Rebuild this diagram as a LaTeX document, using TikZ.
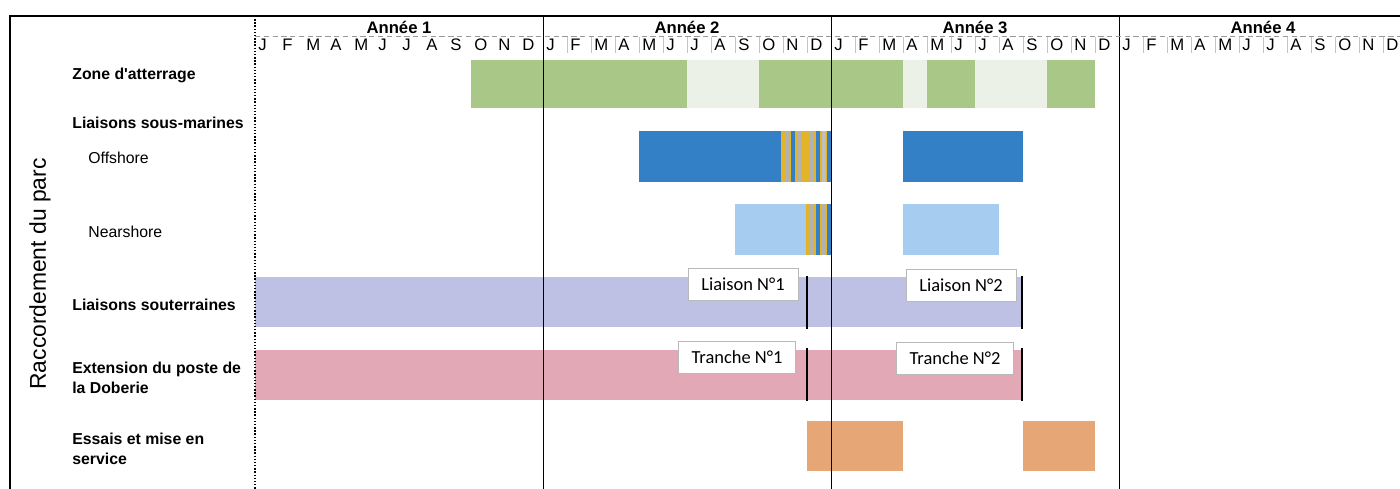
\documentclass[tikz,border=0pt]{standalone}
\usepackage{fontspec}
\setmainfont{Liberation Sans}
\newfontfamily\calibri{Carlito}
\definecolor{vert}{RGB}{169,199,134}
\definecolor{vertpale}{RGB}{236,241,232}
\definecolor{bleu}{RGB}{52,128,198}
\definecolor{bleuclair}{RGB}{166,205,240}
\definecolor{lavande}{RGB}{190,193,228}
\definecolor{rose}{RGB}{226,168,182}
\definecolor{orangeb}{RGB}{230,166,118}
\definecolor{ocre}{RGB}{228,180,40}

\begin{document}
\begin{tikzpicture}[x=0.02cm,y=-0.02cm,
    lbl/.style={font=\bfseries\fontsize{9}{11.5}\selectfont,anchor=west,inner sep=0pt,align=left},
    sublbl/.style={font=\fontsize{9}{11}\selectfont,anchor=west,inner sep=0pt},
    mois/.style={font=\fontsize{9.5}{11}\selectfont,anchor=west,inner sep=0pt},
    annee/.style={font=\bfseries\fontsize{9.5}{11}\selectfont,inner sep=0pt},
    etiq/.style={draw=gray!55,fill=white,font=\calibri\fontsize{10.5}{12}\selectfont,
        minimum height=0.64cm,inner ysep=3pt,inner xsep=7.5pt},
    fin/.style={line width=1.6pt,black}]
\useasboundingbox (0,0) rectangle (1400,489);
% barres du planning
% zone d'atterrage
\fill[vert] (471,60) rectangle (1095,108);
\fill[vertpale] (687,60) rectangle (759,108);
\fill[vertpale] (903,60) rectangle (927,108);
\fill[vertpale] (975,60) rectangle (1047,108);
% offshore
\fill[bleu] (639,131) rectangle (783,182);
\fill[bleu] (903,131) rectangle (1023,182);
\fill[ocre] (781,131) rectangle (831,182);
\foreach \x/\c in {787/gray!60,793/bleu,800/gray!60,812/gray!60,818/bleu,824/gray!50,829/bleu}
    \fill[\c] (\x-2,131) rectangle (\x+2,182);
% nearshore
\fill[bleuclair] (735,204) rectangle (807,255);
\fill[bleuclair] (903,204) rectangle (999,255);
\fill[ocre] (806,204) rectangle (831,255);
\foreach \x/\c in {812/gray!60,818/bleu,823/gray!60,829/bleu}
    \fill[\c] (\x-2,204) rectangle (\x+2,255);
% liaisons souterraines et poste
\fill[lavande] (255,277) rectangle (1023,327);
\fill[rose] (255,350) rectangle (1023,400);
% essais
\fill[orangeb] (807,421) rectangle (903,471);
\fill[orangeb] (1023,421) rectangle (1095,471);

% cadre
\draw[line width=1pt] (10,489) -- (10,16) -- (1400,16);
\draw[densely dotted,thick] (255,16) -- (255,489);
\foreach \x in {543,831,1119}
    \draw[thin] (\x,16) -- (\x,489);
\draw[gray!80,densely dashed] (255,36) -- (1400,36);
% annees et mois
\foreach \a in {1,...,4} {
    \node[annee] (an\a) at ({255+288*(\a-1)+144},27) {Année \a};
    \foreach \m [count=\i from 0] in {J,F,M,A,M,J,J,A,S,O,N,D}
        \node[mois] (m\a-\i) at ({255+288*(\a-1)+24*\i+3},45) {\m};
}
\foreach \a in {2,3,4}
    \foreach \i in {1,...,11}
        \draw[gray!45] ({255+288*(\a-1)+24*\i},37) -- ({255+288*(\a-1)+24*\i},53);

% colonne de gauche
\node[rotate=90,font=\fontsize{13}{15}\selectfont] (parc) at (40,274) {Raccordement du parc};
\node[lbl] (zone) at (72,75) {Zone d\textquotesingle atterrage};
\node[lbl] (ssmar) at (72,123) {Liaisons sous-marines};
\node[sublbl] (off) at (88,158) {Offshore};
\node[sublbl] (near) at (88,232) {Nearshore};
\node[lbl] (sout) at (72,305) {Liaisons souterraines};
\node[lbl] (poste) at (72,378) {Extension du poste de\\la Doberie};
\node[lbl] (essai) at (72,449) {Essais et mise en\\service};

% etiquettes et jalons
\node[etiq] (l1) at (743,284) {Liaison N°1};
\node[etiq] (l2) at (961,285) {Liaison N°2};
\node[etiq] (t1) at (737,357) {Tranche N°1};
\node[etiq] (t2) at (955,358) {Tranche N°2};
\draw[fin] (807,276) -- (807,329);
\draw[fin] (1022,276) -- (1022,329);
\draw[fin] (807,348) -- (807,401);
\draw[fin] (1022,348) -- (1022,401);
\end{tikzpicture}
\end{document}
